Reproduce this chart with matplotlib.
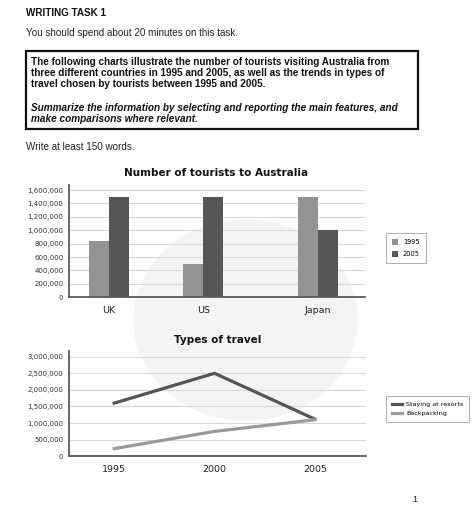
import numpy as np
import matplotlib
matplotlib.use("Agg")
import matplotlib.pyplot as plt
from matplotlib.patches import Ellipse, Rectangle
from matplotlib.ticker import FuncFormatter

# data
countries = ["UK", "US", "Japan"]
tourists_1995 = [840000, 500000, 1500000]
tourists_2005 = [1500000, 1500000, 1000000]
bar_yticks = [0, 200000, 400000, 600000, 800000, 1000000, 1200000, 1400000, 1600000]

years = [1995, 2000, 2005]
resorts = [1600000, 2500000, 1120000]
backpacking = [230000, 750000, 1100000]
line_yticks = [0, 500000, 1000000, 1500000, 2000000, 2500000, 3000000]

# group centres are not evenly spread in the original
group_pos = np.array([0, 1, 2.22])
bw = 0.215

W, H = 477, 512
fig = plt.figure(figsize=(W / 100, H / 100), dpi=100)
fig.patch.set_facecolor("white")

def fx(px):
    return px / W

def fy(py):
    return 1 - py / H

# faint watermark behind the charts
fig.add_artist(Ellipse((fx(245.5), fy(320)), fx(223), 200 / H,
                       transform=fig.transFigure, color="#f4f4f4", zorder=-5))

# header text
txt = "Liberation Sans"
fig.text(fx(26), fy(13), "WRITING TASK 1", family=txt, weight="bold", fontsize=7.1,
         va="center", ha="left", color="#111")
fig.text(fx(26), fy(33), "You should spend about 20 minutes on this task.", family=txt,
         fontsize=7.1, va="center", ha="left", color="#222")
fig.add_artist(Rectangle((fx(26), fy(129)), fx(418 - 26), (129 - 51) / H,
                         transform=fig.transFigure, fill=False, edgecolor="#111", lw=1.6))
box_lines = [
    "The following charts illustrate the number of tourists visiting Australia from",
    "three different countries in 1995 and 2005, as well as the trends in types of",
    "travel chosen by tourists between 1995 and 2005.",
]
for i, line in enumerate(box_lines):
    fig.text(fx(31), fy(62 + i * 11.2), line, family=txt, weight="bold", fontsize=7.2,
             va="center", ha="left", color="#111")
it_lines = [
    "Summarize the information by selecting and reporting the main features, and",
    "make comparisons where relevant.",
]
for i, line in enumerate(it_lines):
    fig.text(fx(31), fy(108 + i * 11.2), line, family=txt, weight="bold", style="italic",
             fontsize=7.2, va="center", ha="left", color="#111")
fig.text(fx(26), fy(147), "Write at least 150 words.", family=txt, fontsize=7.1,
         va="center", ha="left", color="#222")
fig.text(fx(415), fy(499), "1", family=txt, fontsize=6.5, va="center", ha="center", color="#222")

fmt = FuncFormatter(lambda v, p: "{:,}".format(int(v)))
grid_c = "#d9d9d9"
spine_c = "#5a5a5a"

def style_axes(ax):
    ax.set_facecolor("none")
    for s in ["top", "right"]:
        ax.spines[s].set_visible(False)
    for s in ["left", "bottom"]:
        ax.spines[s].set_color(spine_c)
        ax.spines[s].set_linewidth(1.3)
    ax.yaxis.grid(True, color=grid_c, lw=0.8)
    ax.set_axisbelow(True)
    ax.tick_params(length=0)
    ax.yaxis.set_major_formatter(fmt)
    for lab in ax.get_yticklabels():
        lab.set_fontsize(5.0)
        lab.set_color("#333")
    ax.tick_params(axis="y", pad=4)

# bar chart
ax1 = fig.add_axes([fx(69), fy(297.3), fx(365 - 69), (297.3 - 185) / H])
b1 = ax1.bar(group_pos - bw / 2, tourists_1995, bw, color="#939393", label="1995")
b2 = ax1.bar(group_pos + bw / 2, tourists_2005, bw, color="#565656", label="2005")
ax1.set_xlim(-0.426, 2.72)
ax1.set_ylim(0, 1675000)
ax1.set_yticks(bar_yticks)
ax1.set_xticks(group_pos)
ax1.set_xticklabels(countries, fontsize=6.8, color="#222")
ax1.tick_params(axis="x", pad=6)
style_axes(ax1)
fig.text(fx(216), fy(173), "Number of tourists to Australia", fontsize=7.5, weight="bold",
         ha="center", va="center", color="#111")
leg1 = fig.legend(handles=[b1, b2], loc="upper left", bbox_to_anchor=(fx(383), fy(230)),
                  fontsize=4.8, frameon=True, fancybox=False, edgecolor="#999",
                  handlelength=0.9, handleheight=0.9, borderpad=0.9, labelspacing=0.9,
                  handletextpad=0.7)
leg1.get_frame().set_linewidth(0.7)

# line chart
ax2 = fig.add_axes([fx(69), fy(456.3), fx(366 - 69), (456.3 - 350.7) / H])
l1, = ax2.plot(years, resorts, color="#555555", lw=2.3, label="Staying at resorts")
l2, = ax2.plot(years, backpacking, color="#9a9a9a", lw=2.3, label="Backpacking")
ax2.set_xlim(1992.75, 2007.55)
ax2.set_ylim(0, 3180000)
ax2.set_yticks(line_yticks)
ax2.set_xticks(years)
ax2.set_xticklabels([str(y) for y in years], fontsize=6.8, color="#222")
ax2.tick_params(axis="x", pad=6)
style_axes(ax2)
fig.text(fx(218), fy(340), "Types of travel", fontsize=7.5, weight="bold",
         ha="center", va="center", color="#111")
leg2 = fig.legend(handles=[l1, l2], loc="upper left", bbox_to_anchor=(fx(383), fy(392.7)),
                  fontsize=4.6, frameon=True, fancybox=False, edgecolor="#999",
                  handlelength=1.6, borderpad=0.9, labelspacing=0.5, handletextpad=0.6)
leg2.get_frame().set_linewidth(0.7)

fig.savefig("out.png", dpi=100)
